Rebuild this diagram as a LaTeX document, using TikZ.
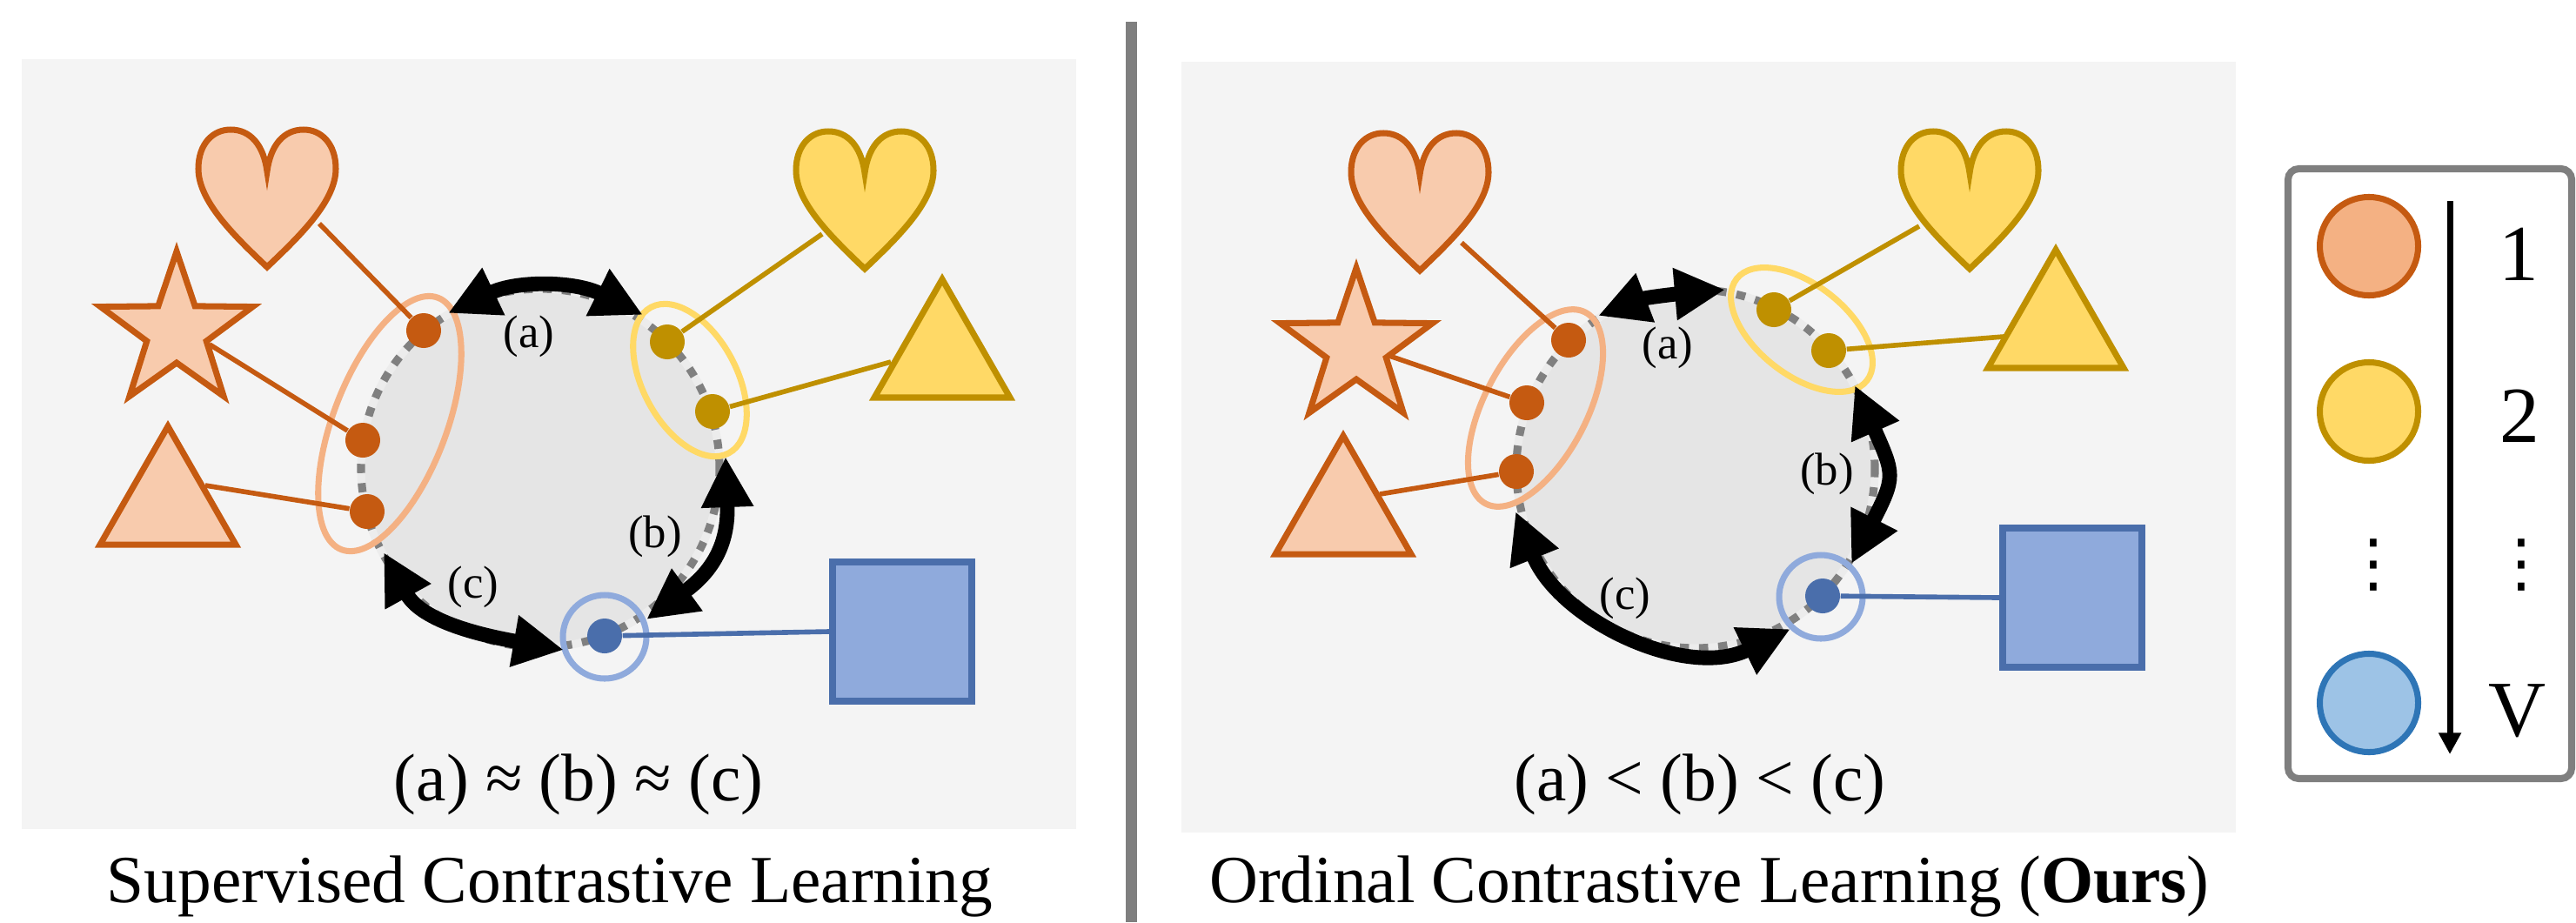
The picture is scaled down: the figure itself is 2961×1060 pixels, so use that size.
\documentclass[tikz,border=0pt]{standalone}
\usepackage{fontspec}
\setmainfont{Liberation Serif}
\newfontfamily\symfont{DejaVu Sans}
\usepackage{tikz}
\usetikzlibrary{positioning, arrows.meta}

\definecolor{panelbg}{HTML}{F4F4F4}
\definecolor{spherebg}{HTML}{E5E5E5}
\definecolor{divgray}{HTML}{7F7F7F}
\definecolor{ordark}{HTML}{C55A11}
\definecolor{orfill}{HTML}{F8CBAD}
\definecolor{orring}{HTML}{F4B183}
\definecolor{yedark}{HTML}{BF9000}
\definecolor{yefill}{HTML}{FFD966}
\definecolor{bldark}{HTML}{4A6EAB}
\definecolor{blfill}{HTML}{8FAADC}
\definecolor{legblue}{HTML}{9DC3E6}
\definecolor{legbluedark}{HTML}{2E75B6}

\begin{document}
\begin{tikzpicture}[x=0.01cm, y=0.01cm,
    outl/.style={line width=2pt},
    link/.style={line width=1.6pt},
    grpring/.style={line width=2pt},
    featdot/.style={circle, inner sep=0pt, minimum size=0.4cm},
    legdot/.style={circle, inner sep=0pt, minimum size=1.13cm, line width=2pt},
    dblarr/.style={{Triangle[length=16.5pt,width=16pt]}-{Triangle[length=16.5pt,width=16pt]}, line width=4.8pt},
    dashring/.style={gray, line width=2.6pt, dash pattern=on 3pt off 3.3pt},
    lbl/.style={font=\fontsize{15}{18}\selectfont},
    captxt/.style={font=\fontsize{22}{26}\selectfont, anchor=base},
    legtxt/.style={font=\fontsize{26}{30}\selectfont},
    vdtxt/.style={font=\symfont\fontsize{21}{24}\selectfont},
    heartpic/.pic={\path[pic actions] (0,0) .. controls (-38,36) and (-79,76) .. (-79,113)
        .. controls (-79,142) and (-62,158) .. (-42,158) .. controls (-19,158) and (-4,140) .. (0,110)
        .. controls (4,140) and (19,158) .. (42,158) .. controls (62,158) and (79,142) .. (79,113)
        .. controls (79,76) and (38,36) .. (0,0) -- cycle;},
    starpic/.pic={\path[pic actions] (90:92) -- (126:36) -- (162:92) -- (198:36) -- (234:92)
        -- (270:36) -- (306:92) -- (342:36) -- (18:92) -- (54:36) -- cycle;},
    tripic/.pic={\path[pic actions] (-78,0) -- (78,0) -- (0,136) -- cycle;}
]
    \useasboundingbox (0,0) rectangle (2961,-1060);
    \fill[white] (0,0) rectangle (2961,-1060);

    % panels and divider
    \fill[panelbg] (25,-68) rectangle (1237,-953);
    \fill[panelbg] (1358,-71) rectangle (2570,-957);
    \coordinate (dtop) at (1300,-25);
    \coordinate (dbot) at (1300,-1060);
    \draw[divgray, line width=3.7pt] (dtop) -- (dbot);

    % ---- supervised contrastive learning ----
    \fill[spherebg] (621,-538) circle[radius=206];
    \draw[gray!15, line width=2.6pt] (621,-538) circle[radius=206];
    \draw[dashring] (621,-538) circle[radius=206];

    \pic[draw=ordark, fill=orfill, outl] at (307,-307) {heartpic};
    \pic[draw=ordark, fill=orfill, outl] at (203,-381) {starpic};
    \pic[draw=ordark, fill=orfill, outl] at (193,-626) {tripic};
    \pic[draw=yedark, fill=yefill, outl] at (994,-309) {heartpic};
    \pic[draw=yedark, fill=yefill, outl] at (1083,-457) {tripic};
    \node[draw=bldark, fill=blfill, line width=2.3pt, minimum size=1.6cm] at (1037,-726) (lsq) {};

    \draw[grpring, orring, rotate around={-21:(448,-487)}] (448,-487) ellipse[x radius=65, y radius=155];
    \draw[grpring, yefill, rotate around={28:(793,-437)}] (793,-437) ellipse[x radius=54, y radius=95];
    \draw[grpring, blfill] (695,-732) circle[radius=48];

    \node[featdot, fill=ordark] at (487,-380) (lo1) {};
    \node[featdot, fill=ordark] at (417,-506) (lo2) {};
    \node[featdot, fill=ordark] at (422,-588) (lo3) {};
    \node[featdot, fill=yedark] at (767,-393) (ly1) {};
    \node[featdot, fill=yedark] at (819,-473) (ly2) {};
    \node[featdot, fill=bldark] at (695,-731) (lb1) {};

    \coordinate (lhe) at (367,-257);
    \coordinate (lst) at (241,-396);
    \coordinate (ltr) at (236,-558);
    \coordinate (lyh) at (945,-269);
    \coordinate (lyt) at (1024,-416);
    \draw[link, ordark] (lhe) -- (lo1);
    \draw[link, ordark] (lst) -- (lo2);
    \draw[link, ordark] (ltr) -- (lo3);
    \draw[link, yedark] (lyh) -- (ly1);
    \draw[link, yedark] (lyt) -- (ly2);
    \draw[link, bldark] (lsq.west) -- (lb1);

    \coordinate (la1) at (515,-360);
    \coordinate (la2) at (739,-362);
    \coordinate (lb1t) at (834,-525);
    \coordinate (lb2t) at (743,-712);
    \coordinate (lc1) at (441,-635);
    \coordinate (lc2) at (648,-747);
    \draw[dblarr] (la1) to[bend left=26] (la2);
    \draw[dblarr] (lb1t) to[bend left=28, looseness=1.2] (lb2t);
    \draw[dblarr] (lc1) to[out=-61, in=170] (lc2);

    \node[lbl] at (608,-387) (lla) {(a)};
    \node[lbl] at (753,-617) (llb) {(b)};
    \node[lbl] at (544,-675) (llc) {(c)};

    \node[captxt] at (665,-920) (lrel) {(a) ≈ (b) ≈ (c)};
    \node[captxt] at (632,-1037) (lcap) {Supervised Contrastive Learning};

    % ---- ordinal contrastive learning ----
    \fill[spherebg] (1949,-539) circle[radius=206];
    \draw[gray!15, line width=2.6pt] (1949,-539) circle[radius=206];
    \draw[dashring] (1949,-539) circle[radius=206];

    \pic[draw=ordark, fill=orfill, outl] at (1632,-311) {heartpic};
    \pic[draw=ordark, fill=orfill, outl] at (1559,-400) {starpic};
    \pic[draw=ordark, fill=orfill, outl] at (1544,-637) {tripic};
    \pic[draw=yedark, fill=yefill, outl] at (2264,-309) {heartpic};
    \pic[draw=yedark, fill=yefill, outl] at (2363,-423) {tripic};
    \node[draw=bldark, fill=blfill, line width=2.3pt, minimum size=1.6cm] at (2382,-687) (rsq) {};

    \draw[grpring, orring, rotate around={-27.5:(1765,-469)}] (1765,-469) ellipse[x radius=59, y radius=124];
    \draw[grpring, yefill, rotate around={-38:(2071,-379)}] (2071,-379) ellipse[x radius=95, y radius=52];
    \draw[grpring, blfill] (2093,-686) circle[radius=48];

    \node[featdot, fill=ordark] at (1803,-391) (ro1) {};
    \node[featdot, fill=ordark] at (1755,-463) (ro2) {};
    \node[featdot, fill=ordark] at (1743,-542) (ro3) {};
    \node[featdot, fill=yedark] at (2039,-356) (ry1) {};
    \node[featdot, fill=yedark] at (2102,-403) (ry2) {};
    \node[featdot, fill=bldark] at (2095,-685) (rb1) {};

    \coordinate (rhe) at (1680,-279);
    \coordinate (rst) at (1594,-408);
    \coordinate (rtr) at (1586,-568);
    \coordinate (ryh) at (2206,-260);
    \coordinate (ryt) at (2303,-387);
    \draw[link, ordark] (rhe) -- (ro1);
    \draw[link, ordark] (rst) -- (ro2);
    \draw[link, ordark] (rtr) -- (ro3);
    \draw[link, yedark] (ryh) -- (ry1);
    \draw[link, yedark] (ryt) -- (ry2);
    \draw[link, bldark] (rsq.west) -- (rb1);

    \coordinate (ra1) at (1837,-363);
    \coordinate (ra2) at (1983,-333);
    \coordinate (rb1t) at (2132,-443);
    \coordinate (rb2t) at (2128,-648);
    \coordinate (rc1) at (1742,-588);
    \coordinate (rc2) at (2058,-723);
    \draw[dblarr] (ra1) to[out=21, in=185] (ra2);
    \draw[dblarr] (rb1t) to[out=-66, in=63, looseness=1.4] (rb2t);
    \draw[dblarr] (rc1) to[out=-68, in=206] (rc2);

    \node[lbl] at (1917,-400) (rla) {(a)};
    \node[lbl] at (2100,-545) (rlb) {(b)};
    \node[lbl] at (1868,-688) (rlc) {(c)};

    \node[captxt] at (1954,-920) (rrel) {(a) < (b) < (c)};
    \node[captxt] at (1965,-1037) (rcap) {Ordinal Contrastive Learning (\textbf{Ours})};

    % ---- legend ----
    \draw[divgray, line width=2.3pt, fill=white, rounded corners=3.5pt] (2630,-194) rectangle (2956,-895);
    \node[legdot, draw=ordark, fill=orring] at (2723,-283) (lg1) {};
    \node[legdot, draw=yedark, fill=yefill] at (2723,-473) (lg2) {};
    \node[vdtxt] at (2728,-650) (lgd) {⋮};
    \node[legdot, draw=legbluedark, fill=legblue] at (2723,-808) (lgv) {};
    \coordinate (ordtop) at (2816,-231);
    \coordinate (ordbot) at (2816,-867);
    \draw[-{Triangle[length=7pt,width=7pt]}, line width=2pt] (ordtop) -- (ordbot);
    \node[legtxt] at (2895,-292) (lt1) {1};
    \node[legtxt] at (2896,-478) (lt2) {2};
    \node[vdtxt] at (2898,-650) (ltd) {⋮};
    \node[legtxt] at (2893,-817) (ltv) {V};
\end{tikzpicture}
\end{document}
